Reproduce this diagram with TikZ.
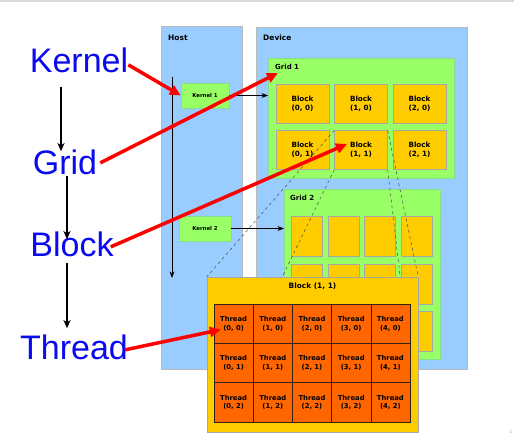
\documentclass[tikz,border=0pt]{standalone}
\usepackage{fontspec}
\setmainfont{Liberation Sans}
\newfontfamily\boxfont{DejaVu Sans}
\usetikzlibrary{arrows.meta,calc,positioning}
\definecolor{paneblue}{HTML}{99CCFF}
\definecolor{gridgreen}{HTML}{99FF66}
\definecolor{blockyellow}{HTML}{FFCC00}
\definecolor{threadorange}{HTML}{FF6600}
\definecolor{wordblue}{HTML}{0A0AF0}

\begin{document}
\begin{tikzpicture}[x=1pt,y=-1pt,>=Stealth,
  panel/.style={draw=gray!55,fill=paneblue,anchor=north west,inner sep=0},
  gridbox/.style={draw=gray!45!green!60,fill=gridgreen,anchor=north west,inner sep=0},
  blockbox/.style={draw=gray!70,fill=blockyellow,inner sep=0,align=center,
    font=\boxfont\bfseries\fontsize{7.2}{8.6}\selectfont},
  threadbox/.style={draw=black!75!brown,fill=threadorange,inner sep=0,align=center,
    minimum width=39.2,minimum height=39.3,font=\boxfont\bfseries\fontsize{6.8}{8.6}\selectfont},
  kernelbox/.style={draw=gray!45!green!60,fill=gridgreen,inner sep=0,minimum height=25,
    font=\boxfont\bfseries\fontsize{5.4}{6.5}\selectfont},
  tag/.style={inner sep=0,anchor=west,font=\boxfont\bfseries\fontsize{7.5}{8}\selectfont},
  word/.style={inner sep=0,anchor=base,text=wordblue,font=\fontsize{34}{36}\selectfont},
  pointer/.style={red,line width=3.5pt,-{Triangle[length=11pt,width=10pt]}},
  stepline/.style={black,line width=1.5pt,-{Stealth[length=8pt,width=7pt,inset=2pt]}}]
  \useasboundingbox (0,0) rectangle (514,443);
  \draw[gray!30,line width=1.5pt] (0,1) -- (514,1);
  % host and device
  \node[panel,minimum width=81,minimum height=343] (host) at (161,26) {};
  \node[tag] (hostlbl) at (168,38) {Host};
  \node[panel,minimum width=211,minimum height=342] (device) at (256,27) {};
  \node[tag] (devicelbl) at (263,38) {Device};
  \node[kernelbox,minimum width=48] (k1) at (205,95.5) {Kernel 1};
  \node[kernelbox,minimum width=52] (k2) at (205,228.5) {Kernel 2};
  \coordinate (tstart) at (172,77);
  \coordinate (tend) at (172,278);
  \draw[->,line width=0.8pt] (tstart) -- (tend);
  % grid 1
  \node[gridbox,minimum width=186,minimum height=120] (grid1) at (268,58) {};
  \node[tag,font=\boxfont\bfseries\fontsize{7}{8}\selectfont] (g1lbl) at (275,67) {Grid 1};
  \foreach \j in {0,1}
    \foreach \i in {0,1,2}
      \node[blockbox,minimum width=53,minimum height=39]
        (b\i\j) at (302.5+58.5*\i,103.5+46.5*\j) {Block\\(\i, \j)};
  % grid 2
  \node[gridbox,minimum width=156,minimum height=170] (grid2) at (284,189) {};
  \node[tag,font=\boxfont\bfseries\fontsize{7}{8}\selectfont] (g2lbl) at (290,198) {Grid 2};
  \foreach \j in {0,1,2}
    \foreach \i in {0,1,2,3}
      \node[blockbox,minimum width=31,minimum height=40]
        (c\i\j) at (306.5+36.7*\i,236.5+47.3*\j) {};
  \draw[->,line width=0.8pt] (k1) -- (k1 -| grid1.west);
  \draw[->,line width=0.8pt] (k2) -- (k2 -| grid2.west);
  % zoom of block (1, 1)
  \node[blockbox,minimum width=211,minimum height=155] (big) at (312.5,354.5) {};
  \foreach \a in {north west,south west,north east,south east}
    \draw[dashed,black!70,line width=0.5pt] (b11.\a) -- (big.\a);
  \node[blockbox,minimum width=211,minimum height=155,fill opacity=0.9] (bigtop) at (312.5,354.5) {};
  \node[blockbox,draw=none,fill=none,font=\boxfont\bfseries\fontsize{7.4}{8}\selectfont] (biglbl) at (312.5,286) {Block (1, 1)};
  \foreach \j in {0,1,2}
    \foreach \i in {0,1,2,3,4}
      \node[threadbox] (t\i\j) at (233.6+39.2*\i,323.65+39.3*\j) {Thread\\(\i, \j)};
  % left column
  \node[word] (kernel) at (79,73) {Kernel};
  \node[word] (grid) at (65,175) {Grid};
  \node[word] (block) at (72,257) {Block};
  \node[word] (thread) at (74,360) {Thread};
  \draw[stepline] ($(kernel.south)+(-18,13)$) -- ($(grid.north)+(-4,1)$);
  \draw[stepline] ($(grid.south)+(2,0)$) -- ($(block.north)+(-5,7)$);
  \draw[stepline] ($(block.south)+(-5,5)$) -- ($(thread.north)+(-7,-7)$);
  \draw[pointer] ($(kernel.east)+(0,4)$) -- (k1.west);
  \draw[pointer] ($(grid.east)+(3,0)$) -- ($(g1lbl.south west)+(3,3)$);
  \draw[pointer] ($(block.east)+(-3,2)$) -- ($(b11.center)+(-14,-6)$);
  \draw[pointer] ($(thread.east)+(-3,2)$) -- ($(t00.west)+(7,6)$);
  \node[inner sep=0,text=gray!60,font=\fontsize{5}{6}\selectfont] (pageno) at (511,432) {1};
\end{tikzpicture}
\end{document}
